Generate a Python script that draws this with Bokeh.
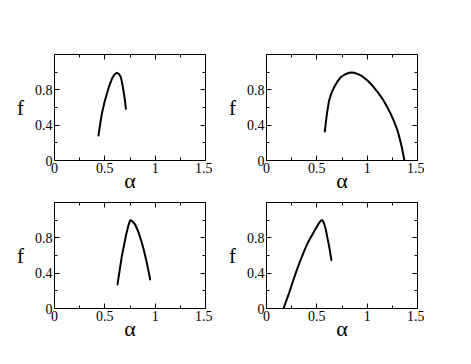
from bokeh.plotting import figure
from bokeh.layouts import gridplot
from bokeh.models import LinearAxis, FixedTicker, CustomLabelingPolicy
from bokeh.embed import file_html
from bokeh.resources import INLINE

# Panel data (alpha, f)
alpha1 = [0.437, 0.454, 0.470, 0.494, 0.520, 0.543, 0.570, 0.593, 0.619, 0.639, 0.659, 0.672, 0.685, 0.699, 0.709]
f1 = [0.283, 0.415, 0.528, 0.649, 0.755, 0.842, 0.925, 0.970, 0.993, 0.981, 0.944, 0.876, 0.793, 0.687, 0.585]

alpha2 = [0.579, 0.586, 0.596, 0.605, 0.622, 0.645, 0.672, 0.705, 0.738, 0.778, 0.821, 0.847, 0.870, 0.910,
          0.953, 1.003, 1.052, 1.102, 1.152, 1.195, 1.234, 1.267, 1.301, 1.324, 1.344, 1.357, 1.370]
f2 = [0.328, 0.396, 0.491, 0.566, 0.680, 0.763, 0.830, 0.895, 0.944, 0.974, 0.993, 0.997, 0.993, 0.978,
      0.951, 0.906, 0.849, 0.778, 0.698, 0.615, 0.528, 0.442, 0.340, 0.245, 0.151, 0.076, 0.0]

alpha3 = [0.626, 0.646, 0.669, 0.692, 0.712, 0.732, 0.752, 0.775, 0.801, 0.834, 0.868, 0.894, 0.917, 0.934, 0.950]
f3 = [0.272, 0.423, 0.593, 0.725, 0.838, 0.932, 1.0, 0.985, 0.951, 0.864, 0.744, 0.630, 0.517, 0.423, 0.328]

alpha4 = [0.169, 0.195, 0.225, 0.258, 0.291, 0.331, 0.374, 0.413, 0.456, 0.490, 0.523, 0.539, 0.556,
          0.572, 0.589, 0.605, 0.622, 0.645]
f4 = [0.0, 0.083, 0.177, 0.291, 0.404, 0.528, 0.649, 0.751, 0.838, 0.906, 0.970, 0.993, 1.0,
      0.963, 0.895, 0.800, 0.706, 0.547]

x_ticks = [0, 0.5, 1, 1.5]
x_minor = [0.25, 0.75, 1.25]
y_ticks = [0, 0.4, 0.8]
y_minor = [0.2, 0.6, 1.0]

FONT = "'Liberation Serif', serif"

HIDE = """
const all = [...indices]
for (const i of all) { indices.unset(i) }
return indices
"""


def style_axis(ax, show_labels):
    ax.axis_line_color = "black"
    ax.axis_line_width = 1
    ax.major_tick_in = 5
    ax.major_tick_out = 0
    ax.minor_tick_in = 3
    ax.minor_tick_out = 0
    ax.major_tick_line_color = "black"
    ax.minor_tick_line_color = "black"
    ax.major_label_text_font = FONT
    ax.major_label_text_color = "black"
    ax.axis_label_text_font = FONT
    ax.axis_label_text_font_style = "normal"
    ax.axis_label_text_color = "black"
    if show_labels:
        ax.major_label_text_font_size = "14px"
        ax.major_label_standoff = 2
    else:
        ax.major_label_text_font_size = "0px"
        ax.major_label_standoff = 0
        ax.major_label_policy = CustomLabelingPolicy(code=HIDE)


def panel(xs, ys, top_border, bottom_border):
    p = figure(frame_width=151, frame_height=106, x_range=(0, 1.5), y_range=(0, 1.2),
               output_backend="svg", toolbar_location=None,
               min_border_left=54, min_border_right=7,
               min_border_top=top_border, min_border_bottom=bottom_border)
    p.grid.visible = False
    p.outline_line_color = "black"
    p.background_fill_color = "white"
    p.border_fill_color = "white"
    p.xaxis.ticker = FixedTicker(ticks=x_ticks, minor_ticks=x_minor)
    p.yaxis.ticker = FixedTicker(ticks=y_ticks, minor_ticks=y_minor)
    p.xaxis.axis_label = "α"
    p.yaxis.axis_label = "f"
    for ax in p.xaxis:
        style_axis(ax, True)
        ax.axis_label_text_font_size = "22px"
        ax.axis_label_standoff = -8
    for ax in p.yaxis:
        style_axis(ax, True)
        ax.axis_label_text_font_size = "21px"
        ax.axis_label_standoff = 8
        ax.axis_label_orientation = "horizontal"
    top = LinearAxis(ticker=FixedTicker(ticks=x_ticks, minor_ticks=x_minor))
    style_axis(top, False)
    right = LinearAxis(ticker=FixedTicker(ticks=y_ticks, minor_ticks=y_minor))
    style_axis(right, False)
    p.add_layout(top, "above")
    p.add_layout(right, "right")
    p.line(xs, ys, line_color="black", line_width=2, line_join="round", line_cap="round")
    return p


p1 = panel(alpha1, f1, 54, 41)
p2 = panel(alpha2, f2, 54, 41)
p3 = panel(alpha3, f3, 1, 42)
p4 = panel(alpha4, f4, 1, 42)

grid = gridplot([[p1, p2], [p3, p4]], toolbar_location=None)

open("out.html", "w").write(file_html(grid, INLINE))
